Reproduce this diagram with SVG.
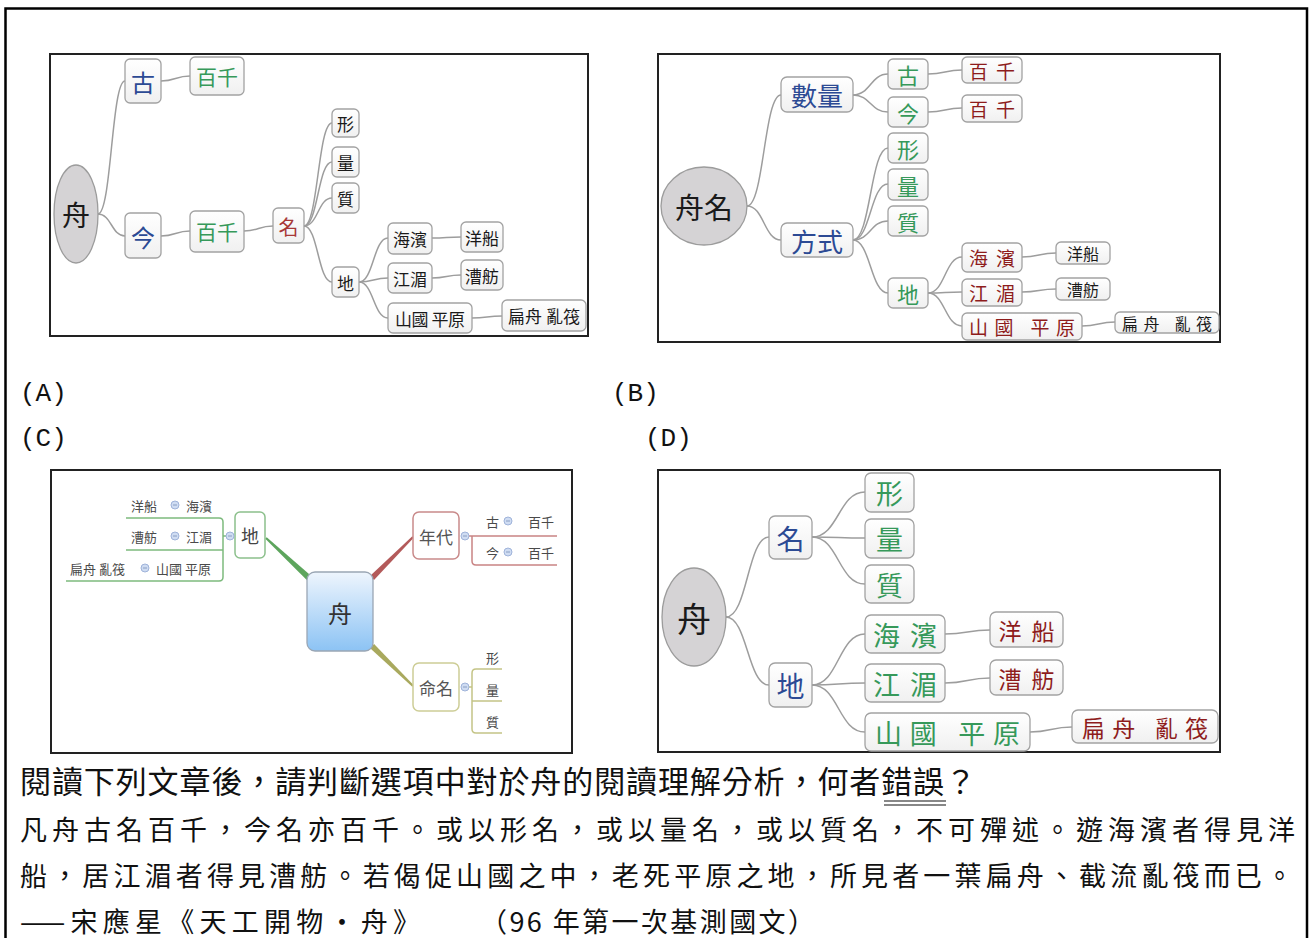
<svg xmlns="http://www.w3.org/2000/svg" width="1312" height="938" viewBox="0 0 1312 938">
<style>
.t{font-family:"Noto Sans CJK TC","Noto Sans CJK SC",sans-serif;text-anchor:middle;dominant-baseline:central}
.box{fill:url(#nodeFill);stroke:#a2a2a2;stroke-width:1.3}
.oval{fill:#d5d3d5;stroke:#9c9c9c;stroke-width:1.3}
.conn{fill:none;stroke:#9d9d9d;stroke-width:1.5}
.panel{fill:#fff;stroke:#222;stroke-width:2}
.blue{fill:#2c4a94}.green{fill:#36995a}.red{fill:#8e1c1c}.brn{fill:#a83838}.blk{fill:#1a1a1a}
.ct{font-family:"Noto Sans CJK TC","Noto Sans CJK SC",sans-serif;font-size:13px;fill:#4a4a4a}
.lab{font-family:"Liberation Mono",monospace;font-size:26px;fill:#111}
.body{font-family:"Noto Sans CJK TC","Noto Sans CJK SC",sans-serif;fill:#111}
.minus{fill:#cfdcf2;stroke:#9fb3da;stroke-width:1}
</style>
<defs>
<linearGradient id="nodeFill" x1="0" y1="0" x2="0" y2="1"><stop offset="0" stop-color="#ffffff"/><stop offset="1" stop-color="#f0f0f0"/></linearGradient>
<linearGradient id="zhouFill" x1="0" y1="0" x2="0" y2="1"><stop offset="0" stop-color="#eef5fd"/><stop offset="1" stop-color="#8cc3f4"/></linearGradient>
</defs>
<rect x="0" y="0" width="1312" height="938" fill="#fff"/>
<path d="M5.5 945 V8.5 H1307 V945" fill="none" stroke="#000" stroke-width="2.5"/>

<!-- Panel A -->
<rect class="panel" x="50" y="54" width="538" height="282"/>
<g id="connectors-A">
<path class="conn" d="M98 214 C111.5 214 111.5 81 125 81"/>
<path class="conn" d="M98 214 C111.5 214 111.5 236 125 236"/>
<path class="conn" d="M161 81 C175.5 81 175.5 76 190 76"/>
<path class="conn" d="M161 236 C175.5 236 175.5 231 190 231"/>
<path class="conn" d="M244 231 C258.5 231 258.5 226 273 226"/>
<path class="conn" d="M304 226 C318 226 318 123 332 123"/>
<path class="conn" d="M304 226 C318 226 318 162 332 162"/>
<path class="conn" d="M304 226 C318 226 318 198 332 198"/>
<path class="conn" d="M304 226 C318 226 318 282 332 282"/>
<path class="conn" d="M359 282 C373.5 282 373.5 238 388 238"/>
<path class="conn" d="M359 282 C373.5 282 373.5 278 388 278"/>
<path class="conn" d="M359 282 C373.5 282 373.5 318 388 318"/>
<path class="conn" d="M432 238 C446.5 238 446.5 237 461 237"/>
<path class="conn" d="M432 278 C446.5 278 446.5 275 461 275"/>
<path class="conn" d="M472 318 C487 318 487 316 502 316"/>
</g>
<g id="A-zhou"><ellipse class="oval" cx="76" cy="214" rx="22" ry="49"/><text class="t blk" x="76" y="214" font-size="28">舟</text></g>
<g id="A-gu"><rect class="box" x="125" y="59" width="36" height="44" rx="5"/><text class="t blue" x="143" y="81" font-size="24">古</text></g>
<g id="A-bq1"><rect class="box" x="190" y="57" width="54" height="38" rx="5"/><text class="t green" x="217" y="76" font-size="21">百千</text></g>
<g id="A-jin"><rect class="box" x="125" y="213" width="36" height="45" rx="5"/><text class="t blue" x="143" y="236" font-size="24">今</text></g>
<g id="A-bq2"><rect class="box" x="190" y="211" width="54" height="41" rx="5"/><text class="t green" x="217" y="231" font-size="21">百千</text></g>
<g id="A-ming"><rect class="box" x="273" y="208" width="31" height="35" rx="5"/><text class="t brn" x="288.5" y="226" font-size="20">名</text></g>
<g id="A-xing"><rect class="box" x="332" y="109" width="27" height="28" rx="5"/><text class="t blk" x="345.5" y="123" font-size="17">形</text></g>
<g id="A-liang"><rect class="box" x="332" y="147" width="27" height="30" rx="5"/><text class="t blk" x="345.5" y="162" font-size="17">量</text></g>
<g id="A-zhi"><rect class="box" x="332" y="183" width="27" height="30" rx="5"/><text class="t blk" x="345.5" y="198" font-size="17">質</text></g>
<g id="A-di"><rect class="box" x="332" y="267" width="27" height="30" rx="5"/><text class="t blk" x="345.5" y="282" font-size="17">地</text></g>
<g id="A-haibin"><rect class="box" x="388" y="223" width="44" height="31" rx="5"/><text class="t blk" x="410" y="238.5" font-size="17">海濱</text></g>
<g id="A-yangchuan"><rect class="box" x="461" y="222" width="42" height="30" rx="5"/><text class="t blk" x="482" y="237" font-size="17">洋船</text></g>
<g id="A-jiangmei"><rect class="box" x="388" y="263" width="44" height="30" rx="5"/><text class="t blk" x="410" y="278" font-size="17">江湄</text></g>
<g id="A-caofang"><rect class="box" x="461" y="260" width="42" height="30" rx="5"/><text class="t blk" x="482" y="275" font-size="17">漕舫</text></g>
<g id="A-shanguo"><rect class="box" x="388" y="303" width="84" height="30" rx="5"/><text class="t blk" x="430" y="318" font-size="17" textLength="70" lengthAdjust="spacing">山國 平原</text></g>
<g id="A-bianzhou"><rect class="box" x="502" y="300" width="84" height="31" rx="5"/><text class="t blk" x="544" y="315.5" font-size="17" textLength="72" lengthAdjust="spacing">扁舟 亂筏</text></g>

<!-- Panel B -->
<rect class="panel" x="658" y="54" width="562" height="288"/>
<g id="connectors-B">
<path class="conn" d="M747 206 C764 206 764 95 781 95"/>
<path class="conn" d="M747 206 C764 206 764 240 781 240"/>
<path class="conn" d="M853 95 C870.5 95 870.5 74 888 74"/>
<path class="conn" d="M853 95 C870.5 95 870.5 112 888 112"/>
<path class="conn" d="M853 240 C870.5 240 870.5 148 888 148"/>
<path class="conn" d="M853 240 C870.5 240 870.5 184 888 184"/>
<path class="conn" d="M853 240 C870.5 240 870.5 221 888 221"/>
<path class="conn" d="M853 240 C870.5 240 870.5 293 888 293"/>
<path class="conn" d="M928 74 C945 74 945 70 962 70"/>
<path class="conn" d="M928 112 C945 112 945 108 962 108"/>
<path class="conn" d="M928 293 C945 293 945 257 962 257"/>
<path class="conn" d="M928 293 C945 293 945 292 962 292"/>
<path class="conn" d="M928 293 C945 293 945 326 962 326"/>
<path class="conn" d="M1022 257 C1039 257 1039 253 1056 253"/>
<path class="conn" d="M1022 292 C1039 292 1039 289 1056 289"/>
<path class="conn" d="M1082 326 C1098.5 326 1098.5 322 1115 322"/>
</g>
<g id="B-zhouming"><ellipse class="oval" cx="704" cy="206" rx="43" ry="39"/><text class="t blk" x="704" y="206" font-size="29">舟名</text></g>
<g id="B-shuliang"><rect class="box" x="781" y="77" width="72" height="35" rx="6"/><text class="t blue" x="817" y="94.5" font-size="26">數量</text></g>
<g id="B-fangshi"><rect class="box" x="781" y="223" width="72" height="34" rx="6"/><text class="t blue" x="817" y="240" font-size="26">方式</text></g>
<g id="B-gu"><rect class="box" x="888" y="59" width="40" height="30" rx="5"/><text class="t green" x="908" y="74" font-size="22">古</text></g>
<g id="B-jin"><rect class="box" x="888" y="97" width="40" height="30" rx="5"/><text class="t green" x="908" y="112" font-size="22">今</text></g>
<g id="B-xing"><rect class="box" x="888" y="133" width="40" height="30" rx="5"/><text class="t green" x="908" y="148" font-size="22">形</text></g>
<g id="B-liang"><rect class="box" x="888" y="169" width="40" height="31" rx="5"/><text class="t green" x="908" y="184.5" font-size="22">量</text></g>
<g id="B-zhi"><rect class="box" x="888" y="206" width="40" height="30" rx="5"/><text class="t green" x="908" y="221" font-size="22">質</text></g>
<g id="B-di"><rect class="box" x="888" y="278" width="40" height="30" rx="5"/><text class="t green" x="908" y="293" font-size="22">地</text></g>
<g id="B-bq1"><rect class="box" x="962" y="57" width="60" height="26" rx="5"/><text class="t red" x="992" y="70" font-size="19" textLength="46" lengthAdjust="spacing">百千</text></g>
<g id="B-bq2"><rect class="box" x="962" y="95" width="60" height="27" rx="5"/><text class="t red" x="992" y="108.5" font-size="19" textLength="46" lengthAdjust="spacing">百千</text></g>
<g id="B-haibin"><rect class="box" x="962" y="243" width="60" height="29" rx="5"/><text class="t red" x="992" y="257.5" font-size="19" textLength="46" lengthAdjust="spacing">海濱</text></g>
<g id="B-jiangmei"><rect class="box" x="962" y="279" width="60" height="27" rx="5"/><text class="t red" x="992" y="292.5" font-size="19" textLength="46" lengthAdjust="spacing">江湄</text></g>
<g id="B-shanguo"><rect class="box" x="962" y="313" width="120" height="27" rx="5"/><text class="t red" x="1022" y="326.5" font-size="19" textLength="106" lengthAdjust="spacing">山國 平原</text></g>
<g id="B-yangchuan"><rect class="box" x="1056" y="242" width="54" height="22" rx="5"/><text class="t blk" x="1083" y="253" font-size="16">洋船</text></g>
<g id="B-caofang"><rect class="box" x="1056" y="278" width="54" height="22" rx="5"/><text class="t blk" x="1083" y="289" font-size="16">漕舫</text></g>
<g id="B-bianzhou"><rect class="box" x="1115" y="312" width="104" height="21" rx="5"/><text class="t blk" x="1167" y="322.5" font-size="16" textLength="90" lengthAdjust="spacing">扁舟 亂筏</text></g>

<!-- Labels -->
<text class="lab" x="20" y="401">(A)</text>
<text class="lab" x="612" y="401">(B)</text>
<text class="lab" x="20" y="446">(C)</text>
<text class="lab" x="645" y="446">(D)</text>

<!-- Panel C -->
<rect class="panel" x="51" y="470" width="521" height="283"/>
<g id="connectors-C">
<polygon points="265.3,538.7 266.7,537.3 311,575.8 307,580.2" fill="#5da55d"/>
<polygon points="413.7,537.7 412.3,536.3 370,576 374,580" fill="#b35a5a"/>
<polygon points="369.9,648.1 374.1,643.9 413.7,685.3 412.3,686.7" fill="#a9a95e"/>
<path d="M226 536 H223 M126 518 H219 Q223 518 223 522 V577 Q223 581 219 581 H66 M126 550 H223" fill="none" stroke="#7dba7d" stroke-width="1.5"/>
<path d="M469 536 H557 M472 536 V561 Q472 565 476 565 H557" fill="none" stroke="#c98484" stroke-width="1.5"/>
<path d="M469 687 H472 M502 669 H476 Q472 669 472 673 V729 Q472 733 476 733 H502 M472 701 H502" fill="none" stroke="#c4c486" stroke-width="1.5"/>
</g>
<g id="C-zhou"><rect x="307" y="572" width="66" height="79" rx="8" fill="url(#zhouFill)" stroke="#9aa6b4" stroke-width="1.3"/><text class="t" x="340" y="612" font-size="24" fill="#333">舟</text></g>
<g id="C-di"><rect x="235" y="512" width="30" height="46" rx="5" fill="#fff" stroke="#8cc08c" stroke-width="1.5"/><text class="t" x="250" y="535" font-size="18" fill="#444">地</text>
<circle class="minus" cx="230" cy="536" r="4"/><path d="M228 536 H232" stroke="#7a8fb8" stroke-width="0.8"/></g>
<g id="C-row1"><text class="ct" x="131" y="511">洋船</text><circle class="minus" cx="175" cy="505" r="4"/><path d="M173 505 H177" stroke="#7a8fb8" stroke-width="0.8"/><text class="ct" x="186" y="511">海濱</text></g>
<g id="C-row2"><text class="ct" x="131" y="542">漕舫</text><circle class="minus" cx="175" cy="536" r="4"/><path d="M173 536 H177" stroke="#7a8fb8" stroke-width="0.8"/><text class="ct" x="186" y="542">江湄</text></g>
<g id="C-row3"><text class="ct" x="70" y="574">扁舟 亂筏</text><circle class="minus" cx="145" cy="568" r="4"/><path d="M143 568 H147" stroke="#7a8fb8" stroke-width="0.8"/><text class="ct" x="156" y="574">山國 平原</text></g>
<g id="C-niandai"><rect x="413" y="512" width="46" height="47" rx="6" fill="#fff" stroke="#c98a8a" stroke-width="1.5"/><text class="t" x="436" y="536" font-size="17" fill="#555">年代</text>
<circle class="minus" cx="465" cy="536" r="4"/><path d="M463 536 H467" stroke="#7a8fb8" stroke-width="0.8"/></g>
<g id="C-gu"><text class="ct" x="486" y="527">古</text><circle class="minus" cx="508" cy="521" r="4"/><path d="M506 521 H510" stroke="#7a8fb8" stroke-width="0.8"/><text class="ct" x="528" y="527">百千</text></g>
<g id="C-jin"><text class="ct" x="486" y="558">今</text><circle class="minus" cx="508" cy="552" r="4"/><path d="M506 552 H510" stroke="#7a8fb8" stroke-width="0.8"/><text class="ct" x="528" y="558">百千</text></g>
<g id="C-mingming"><rect x="413" y="663" width="46" height="48" rx="6" fill="#fff" stroke="#cdcd96" stroke-width="1.5"/><text class="t" x="436" y="687" font-size="17" fill="#555">命名</text>
<circle class="minus" cx="465" cy="687" r="4"/><path d="M463 687 H467" stroke="#7a8fb8" stroke-width="0.8"/></g>
<g id="C-xing"><text class="ct" x="486" y="663">形</text></g>
<g id="C-liang"><text class="ct" x="486" y="695">量</text></g>
<g id="C-zhi"><text class="ct" x="486" y="727">質</text></g>

<!-- Panel D -->
<rect class="panel" x="658" y="470" width="562" height="282"/>
<g id="connectors-D">
<path class="conn" d="M726 617 C747.5 617 747.5 537 769 537"/>
<path class="conn" d="M726 617 C747.5 617 747.5 685 769 685"/>
<path class="conn" d="M812 537 C838.5 537 838.5 492 865 492"/>
<path class="conn" d="M812 537 C838.5 537 838.5 538 865 538"/>
<path class="conn" d="M812 537 C838.5 537 838.5 584 865 584"/>
<path class="conn" d="M812 685 C838.5 685 838.5 634 865 634"/>
<path class="conn" d="M812 685 C838.5 685 838.5 683 865 683"/>
<path class="conn" d="M812 685 C838.5 685 838.5 732 865 732"/>
<path class="conn" d="M945 634 C967.5 634 967.5 630 990 630"/>
<path class="conn" d="M945 683 C967.5 683 967.5 678 990 678"/>
<path class="conn" d="M1030 732 C1051 732 1051 727 1072 727"/>
</g>
<g id="D-zhou"><ellipse class="oval" cx="694" cy="617" rx="32" ry="49"/><text class="t blk" x="694" y="617" font-size="34">舟</text></g>
<g id="D-ming"><rect class="box" x="769" y="516" width="43" height="43" rx="6"/><text class="t blue" x="790.5" y="537.5" font-size="28">名</text></g>
<g id="D-di"><rect class="box" x="769" y="663" width="43" height="44" rx="6"/><text class="t blue" x="790.5" y="685" font-size="28">地</text></g>
<g id="D-xing"><rect class="box" x="865" y="473" width="49" height="39" rx="6"/><text class="t green" x="889.5" y="492.5" font-size="27">形</text></g>
<g id="D-liang"><rect class="box" x="865" y="519" width="49" height="39" rx="6"/><text class="t green" x="889.5" y="538.5" font-size="27">量</text></g>
<g id="D-zhi"><rect class="box" x="865" y="565" width="49" height="38" rx="6"/><text class="t green" x="889.5" y="584" font-size="27">質</text></g>
<g id="D-haibin"><rect class="box" x="865" y="615" width="80" height="38" rx="6"/><text class="t green" x="905" y="634" font-size="27" textLength="64" lengthAdjust="spacing">海濱</text></g>
<g id="D-jiangmei"><rect class="box" x="865" y="664" width="80" height="38" rx="6"/><text class="t green" x="905" y="683" font-size="27" textLength="64" lengthAdjust="spacing">江湄</text></g>
<g id="D-shanguo"><rect class="box" x="865" y="713" width="165" height="38" rx="6"/><text class="t green" x="947.5" y="732" font-size="27" textLength="145" lengthAdjust="spacing">山國 平原</text></g>
<g id="D-yangchuan"><rect class="box" x="990" y="612" width="73" height="35" rx="6"/><text class="t red" x="1026.5" y="629.5" font-size="23" textLength="56" lengthAdjust="spacing">洋船</text></g>
<g id="D-caofang"><rect class="box" x="990" y="660" width="73" height="35" rx="6"/><text class="t red" x="1026.5" y="677.5" font-size="23" textLength="56" lengthAdjust="spacing">漕舫</text></g>
<g id="D-bianzhou"><rect class="box" x="1072" y="710" width="146" height="33" rx="6"/><text class="t red" x="1145" y="726.5" font-size="23" textLength="126" lengthAdjust="spacing">扁舟 亂筏</text></g>

<!-- Body text -->
<text class="body" x="20" y="793" font-size="31" textLength="956" lengthAdjust="spacing">閱讀下列文章後，請判斷選項中對於舟的閱讀理解分析，何者錯誤？</text>
<path d="M884 801 H946 M884 805 H946" stroke="#111" stroke-width="1.2"/>
<text class="body" x="20" y="840" font-size="27" textLength="1275" lengthAdjust="spacing">凡舟古名百千，今名亦百千。或以形名，或以量名，或以質名，不可殫述。遊海濱者得見洋</text>
<text class="body" x="20" y="886" font-size="27" textLength="1273" lengthAdjust="spacing">船，居江湄者得見漕舫。若偈促山國之中，老死平原之地，所見者一葉扁舟、截流亂筏而已。</text>
<text class="body" x="20" y="932" font-size="27" textLength="400" lengthAdjust="spacing">——宋應星《天工開物・舟》</text>
<text class="body" x="480" y="932" font-size="27" textLength="335" lengthAdjust="spacing">（96 年第一次基測國文）</text>
</svg>
